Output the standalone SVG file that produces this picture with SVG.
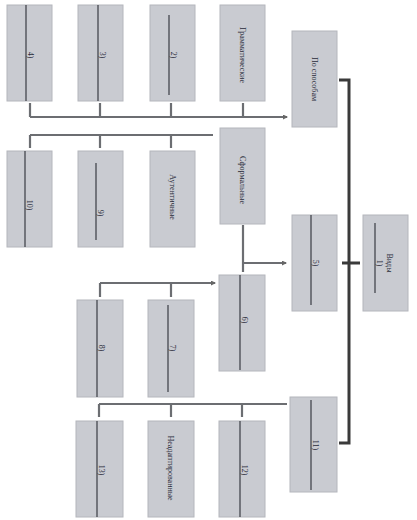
<svg xmlns="http://www.w3.org/2000/svg" width="417" height="520" viewBox="0 0 417 520">
<defs>
<marker id="ah" markerWidth="5" markerHeight="5" refX="4" refY="2.5" orient="auto" markerUnits="userSpaceOnUse">
<path d="M0,0 L5,2.5 L0,5 z" fill="#666"/>
</marker>
<style>
.box{fill:#c9cbd1;stroke:#b4b6bc;stroke-width:1}
.fl{stroke:#3a3c44;stroke-width:1.2}
.lb{font-family:"Liberation Serif",serif;font-size:8px;fill:#2a2c3a}
.cn{fill:none;stroke:#6c6e72;stroke-width:2.2}
.br{fill:none;stroke:#3a3a3a;stroke-width:3}
</style>
</defs>
<rect width="417" height="520" fill="#ffffff"/>
<g id="connectors">
<path class="cn" d="M30,103 V117 M100,103 V117 M171,103 V117 M243,103 V117"/>
<path class="cn" d="M30,117 H287" marker-end="url(#ah)"/>
<path class="cn" d="M30,135 H213 M30,135 V148 M100,135 V148 M171,135 V148"/>
<path class="cn" d="M243,225 V272"/>
<path class="cn" d="M243,263 H286" marker-end="url(#ah)"/>
<path class="cn" d="M100,283 H215" marker-end="url(#ah)"/>
<path class="cn" d="M100,283 V297 M171,283 V297"/>
<path class="cn" d="M99,404 H287 M99,404 V417 M171,404 V417 M242,404 V417"/>
<path class="br" d="M339,80 H349 V443 H339"/>
<path class="br" d="M342,263 H360"/>
</g>
<g id="n4"><rect class="box" x="7" y="5" width="45" height="96"/><line class="fl" x1="26" y1="5" x2="26" y2="101"/><text class="lb" transform="translate(28,55) rotate(90)" text-anchor="middle">4)</text></g>
<g id="n3"><rect class="box" x="78" y="5" width="45" height="96"/><line class="fl" x1="98" y1="5" x2="98" y2="101"/><text class="lb" transform="translate(100,55) rotate(90)" text-anchor="middle">3)</text></g>
<g id="n2"><rect class="box" x="150" y="5" width="45" height="96"/><line class="fl" x1="169" y1="15" x2="169" y2="95"/><text class="lb" transform="translate(171,55) rotate(90)" text-anchor="middle">2)</text></g>
<g id="gram"><rect class="box" x="220" y="5" width="45" height="96"/><text class="lb" transform="translate(240,55) rotate(90)" text-anchor="middle">Грамматические</text></g>
<g id="sposob"><rect class="box" x="292" y="31" width="45" height="96"/><text class="lb" transform="translate(312,79) rotate(90)" text-anchor="middle">По способам</text></g>
<g id="n10"><rect class="box" x="7" y="151" width="45" height="96"/><line class="fl" x1="25" y1="151" x2="25" y2="247"/><text class="lb" transform="translate(27,205) rotate(90)" text-anchor="middle">10)</text></g>
<g id="n9"><rect class="box" x="78" y="151" width="45" height="96"/><line class="fl" x1="96" y1="163" x2="96" y2="240"/><text class="lb" transform="translate(98,213) rotate(90)" text-anchor="middle">9)</text></g>
<g id="auth"><rect class="box" x="150" y="151" width="45" height="96"/><text class="lb" transform="translate(170,197) rotate(90)" text-anchor="middle">Аутентичные</text></g>
<g id="sform"><rect class="box" x="220" y="128" width="45" height="96"/><text class="lb" transform="translate(240,180) rotate(90)" text-anchor="middle">Сформальные</text></g>
<g id="n5"><rect class="box" x="292" y="215" width="45" height="96"/><line class="fl" x1="311" y1="215" x2="311" y2="305"/><text class="lb" transform="translate(313,263) rotate(90)" text-anchor="middle">5)</text></g>
<g id="vidy"><rect class="box" x="363" y="215" width="45" height="96"/><line class="fl" x1="375" y1="223" x2="375" y2="293" stroke-width="0.8"/><text class="lb" transform="translate(377,263) rotate(90)" text-anchor="middle">1)</text><text class="lb" transform="translate(387,263) rotate(90)" text-anchor="middle">Виды</text></g>
<g id="n6"><rect class="box" x="219" y="275" width="46" height="96"/><line class="fl" x1="240" y1="275" x2="240" y2="370"/><text class="lb" transform="translate(242,320) rotate(90)" text-anchor="middle">6)</text></g>
<g id="n8"><rect class="box" x="77" y="300" width="46" height="97"/><line class="fl" x1="97" y1="300" x2="97" y2="397"/><text class="lb" transform="translate(99,348) rotate(90)" text-anchor="middle">8)</text></g>
<g id="n7"><rect class="box" x="148" y="300" width="46" height="97"/><line class="fl" x1="168" y1="305" x2="168" y2="392"/><text class="lb" transform="translate(170,348) rotate(90)" text-anchor="middle">7)</text></g>
<g id="n11"><rect class="box" x="290" y="397" width="47" height="95"/><line class="fl" x1="311" y1="400" x2="311" y2="490"/><text class="lb" transform="translate(313,445) rotate(90)" text-anchor="middle">11)</text></g>
<g id="n13"><rect class="box" x="76" y="421" width="47" height="96"/><line class="fl" x1="97" y1="421" x2="97" y2="517"/><text class="lb" transform="translate(99,470) rotate(90)" text-anchor="middle">13)</text></g>
<g id="neadapt"><rect class="box" x="148" y="421" width="46" height="96"/><text class="lb" transform="translate(168,468) rotate(90)" text-anchor="middle">Неадаптированные</text></g>
<g id="n12"><rect class="box" x="219" y="421" width="46" height="96"/><line class="fl" x1="240" y1="421" x2="240" y2="517"/><text class="lb" transform="translate(242,470) rotate(90)" text-anchor="middle">12)</text></g>
</svg>
